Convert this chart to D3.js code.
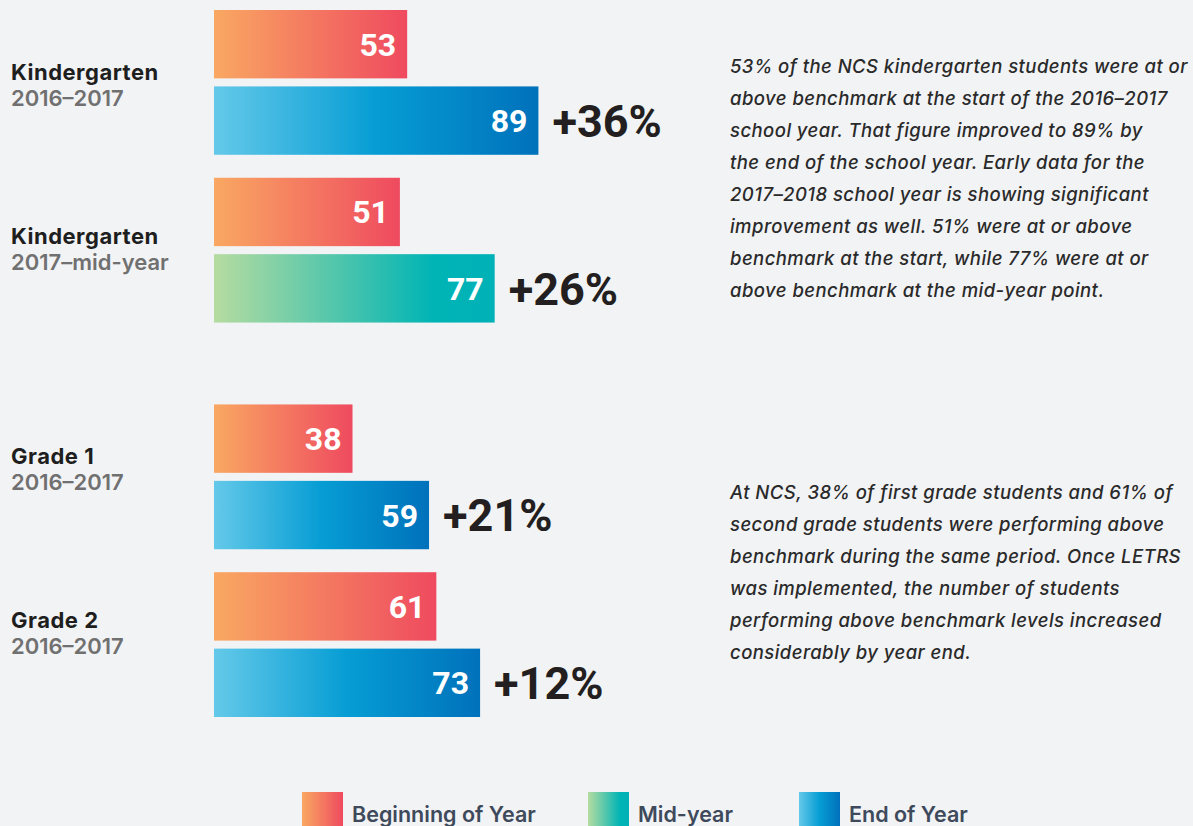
<!DOCTYPE html>
<html>
<head>
<meta charset="utf-8">
<script src="https://cdn.jsdelivr.net/npm/d3@7"></script>
<style>
  html, body { margin: 0; padding: 0; background: #f2f3f5; }
  svg { display: block; }
</style>
</head>
<body>
<svg id="chart" width="1193" height="826"></svg>
<script>
// ---------------- DATA ----------------
const groupNames   = ["Kindergarten", "Kindergarten", "Grade 1", "Grade 2"];
const groupPeriods = ["2016–2017", "2017–mid-year", "2016–2017", "2016–2017"];
const groupSection = [0, 0, 1, 1];
const beginValues  = [53, 51, 38, 61];
const endValues    = [89, 77, 59, 73];
const endKinds     = ["end", "mid", "end", "end"];
const legendLabels = ["Beginning of Year", "Mid-year", "End of Year"];
const legendKinds  = ["begin", "mid", "end"];
const notes = [
  ["53% of the NCS kindergarten students were at or",
   "above benchmark at the start of the 2016–2017",
   "school year. That figure improved to 89% by",
   "the end of the school year. Early data for the",
   "2017–2018 school year is showing significant",
   "improvement as well. 51% were at or above",
   "benchmark at the start, while 77% were at or",
   "above benchmark at the mid-year point."],
  ["At NCS, 38% of first grade students and 61% of",
   "second grade students were performing above",
   "benchmark during the same period. Once LETRS",
   "was implemented, the number of students",
   "performing above benchmark levels increased",
   "considerably by year end."]
];

// ---------------- LAYOUT ----------------
const svg = d3.select("#chart");
const W = 1193, H = 826;
svg.append("rect").attr("width", W).attr("height", H).attr("fill", "#f2f3f5");

const defs = svg.append("defs");
const gradients = {
  begin: [["0%", "#f9a862"], ["100%", "#ef4a5f"]],
  mid:   [["0%", "#b6dca0"], ["78%", "#00b4b5"], ["100%", "#00b1b7"]],
  end:   [["0%", "#64c9e9"], ["50%", "#069dd4"], ["100%", "#0071bb"]]
};
Object.entries(gradients).forEach(([k, stops]) => {
  const g = defs.append("linearGradient").attr("id", "grad-" + k)
    .attr("x1", "0%").attr("x2", "100%").attr("y1", "0%").attr("y2", "0%");
  stops.forEach(([o, c]) => g.append("stop").attr("offset", o).attr("stop-color", c));
});

const x = d3.scaleLinear().domain([0, 100]).range([214, 578.5]);
const sectionBand = d3.scaleBand().domain([0, 1]).range([10, 717]).paddingInner(0.2076);
const groupBand = d3.scaleBand().domain([0, 1]).range([0, sectionBand.bandwidth()]).paddingInner(0.137);
const barBand = d3.scaleBand().domain(["begin", "end"]).range([0, groupBand.bandwidth()]).paddingInner(0.105);

const groups = groupNames.map((name, i) => {
  const sec = groupSection[i];
  const idx = groupSection.slice(0, i).filter(s => s === sec).length;
  return {
    name, period: groupPeriods[i], begin: beginValues[i], end: endValues[i],
    endKind: endKinds[i], top: sectionBand(sec) + groupBand(idx)
  };
});
const tops = groups.map(g => g.top);
// label baselines follow the group tops with a slight compression
const labelY = d3.scaleLinear().domain([d3.min(tops), d3.max(tops)]).range([80, 628]);

const numFont = "Roboto, 'Liberation Sans', sans-serif";
const labelFont = "Inter, 'Noto Sans', sans-serif";

groups.forEach(g => {
  const gg = svg.append("g");
  const bars = [
    { slot: "begin", value: g.begin, kind: "begin" },
    { slot: "end", value: g.end, kind: g.endKind }
  ];
  bars.forEach(b => {
    const y0 = g.top + barBand(b.slot);
    gg.append("rect")
      .attr("x", x(0)).attr("y", y0)
      .attr("width", x(b.value) - x(0)).attr("height", barBand.bandwidth())
      .attr("fill", `url(#grad-${b.kind})`);
    gg.append("text")
      .attr("x", x(b.value) - 11).attr("y", y0 + barBand.bandwidth() / 2)
      .attr("dy", "0.36em").attr("text-anchor", "end")
      .attr("font-family", numFont).attr("font-weight", 700).attr("font-size", 32)
      .attr("fill", "#ffffff").text(b.value);
  });
  // change label
  const yEnd = g.top + barBand("end");
  gg.append("text")
    .attr("x", x(g.end) + 14).attr("y", yEnd + barBand.bandwidth() / 2)
    .attr("dy", "0.36em")
    .attr("font-family", numFont).attr("font-weight", 700).attr("font-size", 45)
    .attr("fill", "#231f20").text("+" + (g.end - g.begin) + "%");
  // group labels
  const lb = labelY(g.top);
  gg.append("text").attr("x", 11).attr("y", lb)
    .attr("font-family", labelFont).attr("font-weight", 700).attr("font-size", 22)
    .attr("letter-spacing", 0.5)
    .attr("fill", "#1e1e1e").text(g.name);
  gg.append("text").attr("x", 11).attr("y", lb + 26)
    .attr("font-family", labelFont).attr("font-weight", 600).attr("font-size", 22)
    .attr("fill", "#707070").text(g.period);
});

// notes
notes.forEach((lines, s) => {
  const center = sectionBand(s) + sectionBand.bandwidth() / 2 + 12;
  const lh = 32, cap = 13;
  const first = center - ((lines.length - 1) * lh + cap) / 2 + cap;
  const t = svg.append("text")
    .attr("font-family", labelFont).attr("font-style", "italic")
    .attr("font-weight", 500).attr("font-size", 18.5).attr("letter-spacing", 0.45)
    .attr("fill", "#2a2a2a");
  lines.forEach((ln, i) => {
    t.append("tspan").attr("x", 730).attr("y", first + i * lh).text(ln);
  });
});

// legend
const legendX = [302, 588, 799];
legendLabels.forEach((lab, i) => {
  const lg = svg.append("g").attr("transform", `translate(${legendX[i]},792)`);
  lg.append("rect").attr("width", 41).attr("height", 50).attr("fill", `url(#grad-${legendKinds[i]})`);
  lg.append("text").attr("x", 50).attr("y", 30)
    .attr("font-family", labelFont).attr("font-weight", 600).attr("font-size", 21.5)
    .attr("fill", "#3e4a5b").text(lab);
});
</script>
</body>
</html>
